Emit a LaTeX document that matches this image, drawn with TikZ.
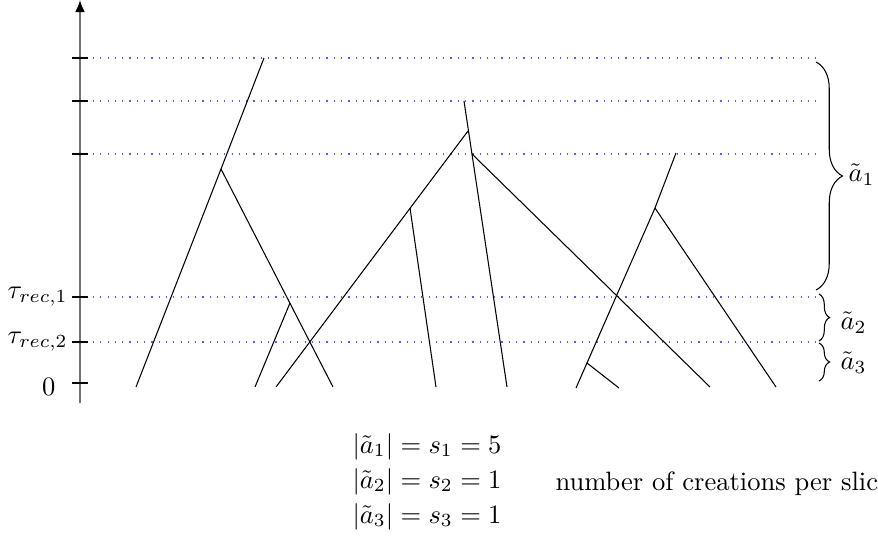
\documentclass[tikz,border=0pt]{standalone}
\usetikzlibrary{decorations.pathreplacing,arrows.meta}
\tikzset{
  slice/.style={blue!65, dash pattern=on 0.45pt off 2.3pt},
  slicebrace/.style={decorate, decoration={brace, amplitude=#1}},
  tick/.style={left, inner sep=1.5pt},
}
\begin{document}
\begin{tikzpicture}[x=0.377pt, y=-0.377pt]
\useasboundingbox (0,0) rectangle (878,549);

% Axis and ticks
\draw[-{Latex[length=4.6pt,width=3.8pt,color=black]}, black!55, line width=0.7pt] (80,403) -- (80,0);
\foreach \t in {58,101,154,297,342,383} \draw (72,\t) -- (88,\t);
\node[tick] (trec1) at (72,297) {$\tau_{rec,1}$};
\node[tick] (trec2) at (72,342) {$\tau_{rec,2}$};
\node[tick] (tzero) at (60,387) {$0$};

% Time slices
\foreach \t in {58,101,154,297,342} \draw[slice] (93,\t) -- (820,\t);

% Tree 1
\coordinate (r1) at (264,58);
\coordinate (b1) at (221,169);
\coordinate (b2) at (290,303);
\coordinate (l1) at (136,387);
\coordinate (l2) at (333,387);
\coordinate (l3) at (255,387);
\draw (r1) -- (b1) -- (l1);
\draw (b1) -- (l2);
\draw (b2) -- (l3);

% Tree 2
\coordinate (r2) at (464,101);
\coordinate (b3) at (468,131);
\coordinate (b4) at (472,154);
\coordinate (b5) at (410,208);
\coordinate (l4) at (507,387);
\coordinate (l5) at (276,387);
\coordinate (l6) at (436,387);
\coordinate (l7) at (710,387);
\draw (r2) -- (l4);
\draw (b3) -- (l5);
\draw (b5) -- (l6);
\draw (b4) -- (l7);

% Tree 3
\coordinate (r3) at (676,153);
\coordinate (b6) at (655,208);
\coordinate (b7) at (587,363);
\coordinate (l8) at (576,388);
\coordinate (l9) at (776,387);
\coordinate (l10) at (619,388);
\draw (r3) -- (b6) -- (l8);
\draw (b6) -- (l9);
\draw (b7) -- (l10);

% Braces over the slices
\draw[slicebrace=10pt] (816,62) -- (816,290);
\draw[slicebrace=4pt] (819,294) -- (819,341);
\draw[slicebrace=4pt] (819,343) -- (819,381);
\node[anchor=west, inner sep=0pt] (a1) at (848,175) {$\tilde{a}_1$};
\node[anchor=west, inner sep=0pt] (a2) at (840,323) {$\tilde{a}_2$};
\node[anchor=west, inner sep=0pt] (a3) at (840,363) {$\tilde{a}_3$};

% Counts
\node[anchor=base west, inner sep=0pt] (s1) at (352,453) {$|\tilde{a}_1| = s_1 = 5$};
\node[anchor=base west, inner sep=0pt] (s2) at (352,488) {$|\tilde{a}_2| = s_2 = 1$};
\node[anchor=base west, inner sep=0pt] (s3) at (352,523) {$|\tilde{a}_3| = s_3 = 1$};
\node[anchor=base west, inner sep=0pt] (perslice) at (555,490) {number of creations per slice};

\end{tikzpicture}
\end{document}
